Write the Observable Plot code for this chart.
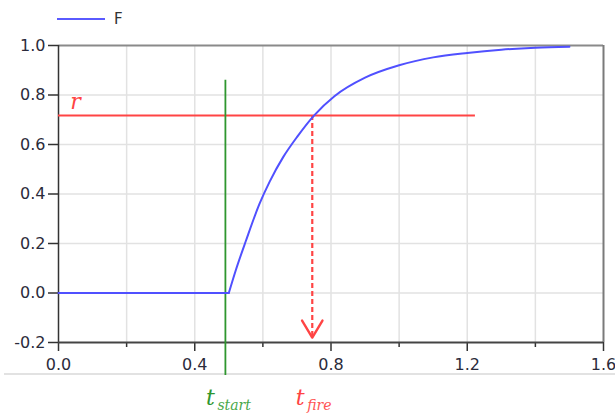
<!DOCTYPE html>
<html><head><meta charset="utf-8">
<script src="https://cdn.jsdelivr.net/npm/d3@7"></script>
<script src="https://cdn.jsdelivr.net/npm/@observablehq/plot@0.6"></script>
<style>
body{margin:0;background:#fff;}
#wrap{position:relative;width:615px;height:416px;overflow:hidden;}
#legend{position:absolute;left:57px;top:10px;font:15px "DejaVu Sans",sans-serif;color:#333;display:flex;align-items:center;z-index:2;}
#sep{position:absolute;left:4px;top:373px;width:611px;height:2px;background:#e2e2e2;}
#chart{position:absolute;left:0;top:0;}
</style></head><body>
<div id="wrap"><div id="sep"></div><div id="chart"></div>
<div id="legend"><svg width="48" height="18"><line x1="0" x2="48" y1="9" y2="9" stroke="#5a5aff" stroke-width="2"/></svg><span style="margin-left:9px">F</span></div></div>
<script>
// Curve F(t): flat part, then the rise
const flatTime = [0, 0.5];
const flatF    = [0, 0];
const riseTime = [0.5, 0.52, 0.55, 0.59, 0.62, 0.66, 0.7, 0.75, 0.81, 0.9, 1.0, 1.1, 1.2, 1.3, 1.4, 1.5];
const riseF    = [0, 0.09, 0.21, 0.36, 0.45, 0.55, 0.63, 0.717, 0.795, 0.87, 0.92, 0.952, 0.970, 0.983, 0.991, 0.995];
// Annotations
const tStart = 0.49;
const startLine = [0.86, -0.333];
const rLevel = 0.717;
const rExtent = [0, 1.224];
const tFire = 0.745;
const arrowTip = -0.18;
const xMajor = [0, 0.4, 0.8, 1.2, 1.6];
const xMinor = [0.2, 0.6, 1.0, 1.4];
const yTicks = [-0.2, 0, 0.2, 0.4, 0.6, 0.8, 1.0];
const xGrid = [0.2, 0.4, 0.6, 0.8, 1.0, 1.2, 1.4];
const yGrid = [0, 0.2, 0.4, 0.6, 0.8];

const flatData = flatTime.map((t, i) => ({t, F: flatF[i]}));
const riseData = riseTime.map((t, i) => ({t, F: riseF[i]}));
const blue = "#5050ff", red = "#ff4444", green = "#2f962f";
const f1 = d3.format(".1f");
const fmt = d => f1(d).replace("\u2212", "-");
const vee = {draw(ctx, l) { const w = l * 0.6; ctx.moveTo(-w, 0); ctx.lineTo(0, -l); ctx.lineTo(w, 0); }};
const axisFont = {fontSize: 16, fontFamily: "DejaVu Sans, sans-serif", fill: "#2b2b3b"};

const plot = Plot.plot({
  width: 615, height: 416,
  marginLeft: 58, marginRight: 12, marginTop: 45, marginBottom: 74,
  style: {fontFamily: "DejaVu Sans, sans-serif", fontSize: "16px", color: "#333", background: "transparent"},
  x: {domain: [0, 1.6]},
  y: {domain: [-0.2, 1.0]},
  marks: [
    Plot.ruleX(xGrid, {stroke: "#e2e2e2", strokeWidth: 1.5}),
    Plot.ruleY(yGrid, {stroke: "#e2e2e2", strokeWidth: 1.5}),
    Plot.axisY(yTicks, {tickSize: 10, tickPadding: 3, tickFormat: fmt, label: null, stroke: "#333", strokeWidth: 1.5, ...axisFont}),
    Plot.axisX(xMajor, {tickSize: 9, tickPadding: 7, tickFormat: fmt, label: null, stroke: "#333", strokeWidth: 1.5, ...axisFont}),
    Plot.axisX(xMinor, {tickSize: 5, tickFormat: () => "", label: null, stroke: "#333", strokeWidth: 1.5}),
    Plot.ruleY([1.0], {stroke: "#8a8a8a", strokeWidth: 2}),
    Plot.ruleX([1.6], {stroke: "#7a7a7a", strokeWidth: 2}),
    Plot.ruleX([0], {stroke: "#333", strokeWidth: 1.5}),
    Plot.ruleY([-0.2], {stroke: "#444", strokeWidth: 2}),
    Plot.ruleY([rLevel], {x1: rExtent[0], x2: rExtent[1], stroke: red, strokeWidth: 2}),
    Plot.ruleX([tStart], {y1: startLine[0], y2: startLine[1], stroke: green, strokeWidth: 1.8}),
    Plot.ruleX([tFire], {y1: rLevel, y2: arrowTip, stroke: red, strokeWidth: 2.2, strokeDasharray: "5,3"}),
    Plot.vector([{x: tFire, y: arrowTip}], {x: "x", y: "y", length: 17, rotate: 180, anchor: "end", shape: vee, stroke: red, strokeWidth: 2.4}),
    Plot.line(flatData, {x: "t", y: "F", stroke: blue, strokeWidth: 2}),
    Plot.line(riseData, {x: "t", y: "F", stroke: blue, strokeWidth: 2, curve: "monotone-x"}),
    Plot.text([rLevel], {x: () => 0, y: d => d, text: () => "r", dx: 17, dy: -14, fontSize: 22, fontFamily: "DejaVu Serif", fontStyle: "italic", fill: red}),
    Plot.text([tStart], {x: d => d, y: () => -0.2, text: () => "t", dx: -15, dy: 55, fontSize: 22, fontFamily: "DejaVu Serif", fontStyle: "italic", fill: green}),
    Plot.text([tStart], {x: d => d, y: () => -0.2, text: () => "start", dx: -8, dy: 63, textAnchor: "start", fontSize: 14, fontFamily: "DejaVu Serif", fontStyle: "italic", fill: "#4aa84a"}),
    Plot.text([tFire], {x: d => d, y: () => -0.2, text: () => "t", dx: -12, dy: 55, fontSize: 22, fontFamily: "DejaVu Serif", fontStyle: "italic", fill: red}),
    Plot.text([tFire], {x: d => d, y: () => -0.2, text: () => "fire", dx: -5, dy: 63, textAnchor: "start", fontSize: 14, fontFamily: "DejaVu Serif", fontStyle: "italic", fill: "#ff5555"})
  ]
});
document.getElementById("chart").appendChild(plot);
</script>
</body></html>
